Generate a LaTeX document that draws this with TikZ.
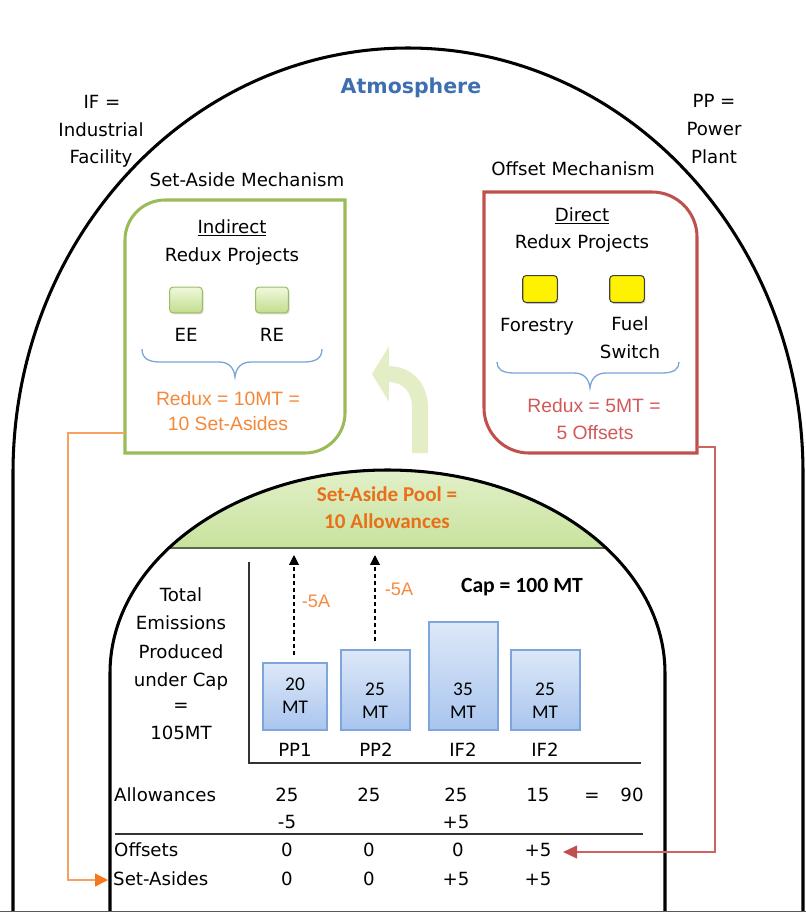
\documentclass[tikz,border=0pt]{standalone}
\usepackage{fontspec}
\setmainfont{DejaVu Sans}
\newfontfamily\carl{Carlito}
\newfontfamily\arialf{Liberation Sans}
\usetikzlibrary{arrows.meta,shadows}
\definecolor{atmblue}{HTML}{3F6FAE}
\definecolor{gboxc}{HTML}{9BBB59}
\definecolor{rboxc}{HTML}{C0504D}
\definecolor{oratext}{HTML}{F4883A}
\definecolor{redtext}{HTML}{D2595A}
\definecolor{pooltext}{HTML}{E8701A}
\definecolor{fivea}{HTML}{F48B3E}
\definecolor{bracec}{HTML}{7BA3D8}
\definecolor{arrowgreen}{HTML}{E4EEC6}
\definecolor{pooltop}{HTML}{E4F1CC}
\definecolor{poolbot}{HTML}{C8E29C}
\definecolor{poolline}{HTML}{5C6650}
\definecolor{bartop}{HTML}{DDE8F8}
\definecolor{barbot}{HTML}{A9C5EE}
\definecolor{barline}{HTML}{7EA6DC}
\definecolor{sqtop}{HTML}{F0F8DC}
\definecolor{sqbot}{HTML}{C2DD8C}
\definecolor{sqline}{HTML}{9CBF60}
\definecolor{oraline}{HTML}{F7A062}
\definecolor{oratip}{HTML}{F5781A}
\definecolor{redline}{HTML}{CD6461}
\begin{document}
\begin{tikzpicture}[x=0.03cm,y=0.03cm,
  txt/.style={anchor=base,inner sep=0pt,font=\fontsize{15.5}{18}\selectfont},
  ltxt/.style={anchor=base west,inner sep=0pt,font=\fontsize{15.5}{18}\selectfont},
  oratxt/.style={anchor=base,inner sep=0pt,text=oratext,font=\arialf\fontsize{16.5}{19}\selectfont},
  redtxt/.style={anchor=base,inner sep=0pt,text=redtext,font=\arialf\fontsize{16.5}{19}\selectfont},
  pooltxt/.style={anchor=base,inner sep=0pt,text=pooltext,font=\carl\bfseries\fontsize{18}{21}\selectfont},
  bartxt/.style={anchor=base,inner sep=0pt,font=\carl\fontsize{16.5}{19}\selectfont},
  fivetxt/.style={anchor=base,inner sep=0pt,text=fivea,font=\arialf\fontsize{15.5}{18}\selectfont},
  arch/.style={line width=2.6pt,black},
  brace/.style={line width=1.1pt,bracec},
  bar/.style={draw=barline,line width=1.1pt,top color=bartop,bottom color=barbot,
    drop shadow={opacity=0.25,shadow xshift=1pt,shadow yshift=-1pt}},
  gsq/.style={draw=sqline,line width=0.9pt,rounded corners=3pt,top color=sqtop,bottom color=sqbot,
    minimum width=28pt,minimum height=22pt,inner sep=0pt,
    drop shadow={opacity=0.3,shadow xshift=1pt,shadow yshift=-1.2pt}},
  ysq/.style={draw=black!75,line width=0.9pt,rounded corners=3pt,fill=yellow,
    minimum width=29.5pt,minimum height=23pt,inner sep=0pt,
    drop shadow={opacity=0.35,shadow xshift=1pt,shadow yshift=-1.2pt}},
  dasharrow/.style={line width=0.9pt,dash pattern=on 3.5pt off 2.5pt,-{Triangle[length=8.5pt,width=8.5pt]}},
  oraconn/.style={line width=1.2pt,oraline,-{Triangle[length=11pt,width=11pt,color=oratip]}},
  redconn/.style={line width=1.2pt,redline,-{Triangle[length=12pt,width=11pt,color=rboxc]}}
]
\useasboundingbox (0,0) rectangle (806,-913);

% ---- set-aside pool fill (inside inner arch) ----
\begin{scope}
  \clip (110,-673) arc[start angle=180,end angle=0,x radius=277.5,y radius=203] -- cycle;
  \shade[top color=pooltop,bottom color=poolbot] (100,-465) rectangle (680,-548);
  \draw[line width=1.8pt,poolline] (100,-548) -- (680,-548);
\end{scope}

% ---- arches ----
\draw[arch] (13,-911) -- (13,-473) arc[start angle=180,end angle=0,x radius=395,y radius=425] -- (803,-911);
\draw[arch] (110,-911) -- (110,-673) arc[start angle=180,end angle=0,x radius=277.5,y radius=203] -- (665,-911);
\draw[line width=1.1pt,black!65] (0,-911.5) -- (806,-911.5);

% ---- green curved arrow ----
\coordinate (garS) at (420,-453);
\coordinate (garE) at (372,-374);
\draw[line width=13.6pt,arrowgreen,-{Triangle[length=14.5pt,width=47pt]}]
  (garS) -- (420,-408) .. controls (420,-386) and (406,-374) .. (garE);

% ---- labels outside ----
\node[anchor=base,inner sep=0pt,text=atmblue,font=\bfseries\fontsize{17.5}{21}\selectfont] (atm) at (411,-93.5) {Atmosphere};
\node[txt] (if1) at (102,-108.5) {IF =};
\node[txt] (if2) at (101,-136.5) {Industrial};
\node[txt] (if3) at (101,-163.5) {Facility};
\node[txt] (pp1l) at (714,-107.5) {PP =};
\node[txt] (pp2l) at (714,-135.5) {Power};
\node[txt] (pp3l) at (714,-163.5) {Plant};
\node[txt] (sam) at (247,-186.5) {Set-Aside Mechanism};
\node[txt] (om) at (573,-175.5) {Offset Mechanism};

% ---- green box ----
\draw[gboxc,line width=2.6pt] (125,-453) -- (125,-240) arc[start angle=180,end angle=90,radius=40]
  -- (345,-200) -- (345,-413) arc[start angle=0,end angle=-90,radius=40] -- cycle;
\coordinate (gboxL) at (125,-433);
\node[txt] (ind) at (232,-233.5) {\underline{Indirect}};
\node[txt] (rp1) at (232,-261) {Redux Projects};
\node[gsq] (ee) at (186,-300) {};
\node[gsq] (re) at (272,-300) {};
\node[txt] (eel) at (186,-341.5) {EE};
\node[txt] (rel) at (272,-341.5) {RE};
\draw[brace] (142,-349) .. controls (142,-358) and (148,-362) .. (160,-362) -- (219,-362)
  .. controls (229,-362) and (234,-368) .. (235,-377) .. controls (236,-368) and (241,-362) .. (251,-362)
  -- (304,-362) .. controls (316,-362) and (322,-358) .. (322,-349);
\node[oratxt] (gr1) at (228,-405) {Redux = 10MT =};
\node[oratxt] (gr2) at (228,-430) {10 Set-Asides};

% ---- red box ----
\draw[rboxc,line width=2.6pt] (484,-192) -- (652,-192) arc[start angle=90,end angle=0,radius=45]
  -- (697,-453) -- (529,-453) arc[start angle=270,end angle=180,radius=45] -- cycle;
\coordinate (rboxR) at (697,-447);
\node[txt] (dir) at (582,-221.5) {\underline{Direct}};
\node[txt] (rp2) at (582,-248.5) {Redux Projects};
\node[ysq] (fo) at (540,-289) {};
\node[ysq] (fs) at (627,-289) {};
\node[txt] (fol) at (537,-331.5) {Forestry};
\node[txt] (fsl1) at (630,-330.5) {Fuel};
\node[txt] (fsl2) at (630,-358.5) {Switch};
\draw[brace] (497,-362) .. controls (497,-369) and (502,-373) .. (514,-373) -- (574,-373)
  .. controls (584,-373) and (589,-379) .. (590,-388) .. controls (591,-379) and (596,-373) .. (606,-373)
  -- (662,-373) .. controls (674,-373) and (679,-369) .. (679,-362);
\node[redtxt] (rr1) at (594,-412) {Redux = 5MT =};
\node[redtxt] (rr2) at (595,-439) {5 Offsets};

% ---- pool text ----
\node[pooltxt] (pool1) at (387,-501) {Set-Aside Pool =};
\node[pooltxt] (pool2) at (387,-528) {10 Allowances};

% ---- chart ----
\coordinate (axT) at (249,-562);
\coordinate (axO) at (249,-763);
\coordinate (axR) at (641,-763);
\draw[line width=1.1pt,black!80] (axT) -- (axO) -- (axR);
\node[anchor=base,inner sep=0pt,font=\carl\bfseries\fontsize{18.5}{22}\selectfont] (cap) at (522,-592) {Cap = 100 MT};

\draw[bar] (263,-663) rectangle (327,-730);
\draw[bar] (341,-650) rectangle (410,-730);
\draw[bar] (429,-622) rectangle (498,-730);
\draw[bar] (511,-650) rectangle (580,-730);
\node[bartxt] (v1a) at (295,-690) {20};
\node[bartxt] (v1b) at (295,-713) {MT};
\node[bartxt] (v2a) at (375,-695) {25};
\node[bartxt] (v2b) at (375,-718) {MT};
\node[bartxt] (v3a) at (463,-695) {35};
\node[bartxt] (v3b) at (463,-718) {MT};
\node[bartxt] (v4a) at (545,-695) {25};
\node[bartxt] (v4b) at (545,-718) {MT};
\node[txt] (l1) at (295,-756) {PP1};
\node[txt] (l2) at (376,-756) {PP2};
\node[txt] (l3) at (463,-756) {IF2};
\node[txt] (l4) at (545,-756) {IF2};

\coordinate (d1s) at (294,-655);
\coordinate (d1e) at (294,-555);
\coordinate (d2s) at (375,-641);
\coordinate (d2e) at (375,-555);
\draw[dasharrow] (d1s) -- (d1e);
\draw[dasharrow] (d2s) -- (d2e);
\node[fivetxt] (m1) at (316,-607) {-5A};
\node[fivetxt] (m2) at (399,-595) {-5A};

\node[txt] (t1) at (181,-601.5) {Total};
\node[txt] (t2) at (181,-629.5) {Emissions};
\node[txt] (t3) at (181,-658) {Produced};
\node[txt] (t4) at (181,-686) {under Cap};
\node[txt] (t5) at (181,-711) {=};
\node[txt] (t6) at (181,-739.5) {105MT};

% ---- table ----
\node[ltxt] (ra) at (114,-801.5) {Allowances};
\node[txt] (a1) at (287,-801.5) {25};
\node[txt] (a2) at (369,-801.5) {25};
\node[txt] (a3) at (456,-801.5) {25};
\node[txt] (a4) at (538,-801.5) {15};
\node[txt] (aeq) at (592,-801.5) {=};
\node[txt] (a5) at (632,-801.5) {90};
\node[txt] (b1) at (287,-828.5) {-5};
\node[txt] (b3) at (456,-828.5) {+5};
\coordinate (hlL) at (115,-834);
\coordinate (hlR) at (643,-834);
\draw[line width=1.1pt,black!80] (hlL) -- (hlR);
\node[ltxt] (ro) at (114,-856.5) {Offsets};
\node[txt] (o1) at (287,-856.5) {0};
\node[txt] (o2) at (369,-856.5) {0};
\node[txt] (o3) at (458,-856.5) {0};
\node[txt] (o4) at (538,-856.5) {+5};
\node[ltxt] (rs) at (113,-885.5) {Set-Asides};
\node[txt] (s1) at (287,-885.5) {0};
\node[txt] (s2) at (369,-885.5) {0};
\node[txt] (s3) at (456,-885.5) {+5};
\node[txt] (s4) at (538,-885.5) {+5};

% ---- connectors ----
\coordinate (oraEnd) at (108,-880);
\coordinate (redEnd) at (563,-852);
\draw[oraconn] (gboxL) -- (68,-433) -- (68,-880) -- (oraEnd);
\draw[redconn] (rboxR) -- (715,-447) -- (715,-852) -- (redEnd);
\end{tikzpicture}
\end{document}
